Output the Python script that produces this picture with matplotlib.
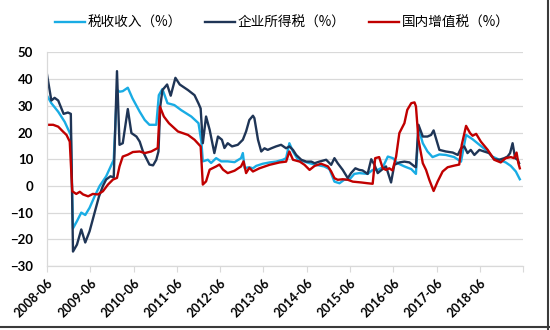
import matplotlib.pyplot as plt
from matplotlib.lines import Line2D

# months counted from 2008-06
total_m = [0, 1.2, 3.1, 4.9, 6.6, 7.2, 8.3, 9.5, 10.6, 11.8, 13.2, 14.6, 16.4, 18.5,
           19.4, 20.1, 21.0, 22.4, 23.7, 25.7, 27.1, 28.4, 30.3, 31.0, 32.0, 33.4,
           35.3, 37.2, 40.0, 42.0, 42.8, 43.2, 44.6, 45.5, 46.9, 48.3, 50.1, 52.0,
           53.8, 54.3, 54.8, 56.1, 57.1, 58.0, 59.8, 61.7, 63.5, 65.4, 66.3, 67.2,
           68.2, 69.6, 71.4, 72.8, 74.6, 76.9, 78.3, 79.7, 81.1, 82.4, 83.8, 85.2,
           86.6, 88.9, 90.3, 91.7, 93.1, 94.5, 95.9, 97.2, 99.1, 101.0, 102.3, 103.0,
           104.2, 105.5, 106.9, 108.8, 110.6, 112.9, 114.8, 116.2, 118.0, 119.9,
           121.7, 123.5, 125.4, 127.2, 128.6, 130.0, 131.1]
total_v = [33.8, 31, 27.8, 24, 19, -15.9, -13.2, -10, -10.9, -8.2, -3.9, 0, 3.6, 9.8,
           36, 35.3, 35.5, 36.8, 32.8, 27.8, 24.7, 22.9, 22.9, 34, 36.3, 31,
           30.3, 28.4, 26, 23.5, 16.6, 9.2, 9.8, 8.6, 10.4, 9.2, 9.2, 8.9,
           10.4, 12.3, 6.7, 7, 6.6, 7.5, 8.3, 8.8, 9.1, 9.8, 10.4, 16,
           12.9, 9.8, 9.1, 8.5, 7.9, 7.3, 6.3, 1.6, 1, 2.3, 2.3, 4.5,
           4.8, 4.5, 6, 6, 7, 11, 10.4, 8.5, 7.3, 6.3, 4.5, 21.6,
           16, 12.9, 10.8, 11.8, 11.6, 10.8, 9.1, 19.1, 17.5, 15.4,
           13.5, 11, 9.8, 8.8, 7.5, 5.4, 2.5]

corp_m = [0, 1.2, 2.1, 3.1, 4.0, 4.6, 5.8, 6.6, 7.2, 8.3, 9.5, 10.6, 11.8, 13.2, 14.4,
          15.5, 16.4, 17.6, 18.5, 19.4, 20.1, 21.0, 22.4, 23.4, 24.8, 25.7, 26.6,
          27.5, 28.4, 29.4, 30.3, 30.9, 31.4, 32.0, 33.3, 34.3, 35.6, 36.8, 39.1,
          40.9, 42.0, 42.6, 43.2, 44.1, 45.1, 46.4, 47.4, 48.5, 49.2, 50.1, 51.3,
          52.9, 54.3, 55.2, 56.1, 57.1, 57.5, 58.5, 59.4, 60.3, 61.2, 62.2, 63.5,
          64.9, 66.3, 67.2, 68.2, 69.1, 70.5, 71.9, 73.3, 74.2, 75.5, 77.4, 78.8,
          79.7, 80.6, 82.0, 83.4, 84.3, 85.5, 86.6, 87.5, 88.9, 89.9, 90.8, 91.7,
          92.6, 94.0, 95.4, 96.3, 97.7, 99.1, 100.5, 101.9, 102.3, 103.0, 104.2,
          105.5, 106.5, 107.2, 108.8, 110.6, 112.5, 113.9, 114.8, 115.7, 116.6,
          117.5, 118.5, 119.9, 121.2, 122.6, 124.0, 125.4, 126.8, 127.7, 128.4,
          129.1, 129.8, 130.5, 130.9]
corp_v = [41.7, 32, 33, 32, 29, 27, 27.5, 27, -24.6, -22, -16.3, -21.2, -17, -10, -4,
          0, 2.4, 3.6, 3.2, 43, 15.4, 16, 28.8, 19.8, 18.5, 16.6, 12.9,
          10.4, 8, 7.7, 9.8, 12.9, 29.7, 35.9, 38, 33.8, 40.5, 38, 35.9,
          34, 30.9, 29, 16, 26, 21, 12.3, 18.5, 17.3, 14.2, 16, 14.8,
          15.4, 17.3, 20.4, 24.7, 26.3, 25.4, 17.3, 12.9, 14.1, 13.5, 14.1, 14.8,
          15.4, 14.1, 14.8, 13.5, 11.6, 9.8, 9.1, 9.1, 8.5, 9.1, 9.8, 7.9,
          10.4, 8.5, 6, 2.9, 4.8, 6.6, 6, 5.8, 4.5, 10, 7.9, 4.8,
          5.8, 7.3, 1.3, 7.9, 8.8, 9.1, 8.8, 7.3, 7, 22.9, 18.5,
          18.5, 19.1, 20.8, 13.5, 12.9, 12.5, 11.6, 14.1, 14.8, 12.3,
          13.5, 11.6, 13.5, 12.9, 12.3, 10, 9.8, 10.4, 11, 12.3,
          16, 10.4, 9.8, 8.5]

vat_m = [0, 1.7, 3.1, 4.4, 5.4, 6.3, 7.0, 8.1, 9.1, 10.0, 11.4, 12.7, 14.1, 15.5, 16.9,
         18.3, 19.4, 20.1, 21.0, 22.4, 23.8, 25.7, 27.1, 28.9, 30.7, 31.3, 32.4,
         33.8, 36.3, 39.1, 40.9, 42.6, 43.2, 44.1, 45.1, 46.9, 47.8, 48.8, 50.1,
         52.0, 53.8, 54.5, 55.2, 56.1, 57.1, 58.9, 61.7, 64.5, 66.3, 67.2, 68.2,
         70.1, 71.4, 72.8, 74.2, 76.0, 77.9, 78.8, 79.7, 80.6, 82.0, 83.4, 84.8,
         87.1, 88.9, 90.3, 91.0, 92.1, 93.1, 94.0, 94.9, 95.8, 96.8, 97.7, 99.1,
         99.9, 101.0, 101.9, 102.3, 103.0, 104.2, 105.1, 106.0, 107.2, 108.3,
         109.7, 111.1, 112.9, 114.3, 115.0, 116.2, 117.3, 118.0, 119.0, 120.3,
         122.2, 124.0, 125.8, 127.2, 128.6, 129.5, 130.2, 130.7, 131.1]
vat_v = [22.9, 22.9, 22.2, 20.4, 19.1, 16.6, -2, -3, -2.2, -3.2, -3.9, -3, -3.2, -2, 0.5,
         2.4, 3, 7.3, 11, 11.7, 12.7, 12.9, 12.3, 12.9, 14.2, 29.7, 26,
         23.5, 20.4, 19.1, 17.3, 14.8, 0.5, 1.7, 6.1, 7.3, 8, 6.1, 4.8,
         5.7, 7.3, 9.2, 4.8, 6.8, 5.4, 6.6, 7.9, 8.8, 9.1, 12.9, 9.8,
         9.1, 7.9, 6, 7.5, 8.3, 7.3, 5.4, 2.9, 2.3, 2.5, 2.3, 1.6,
         1.3, 1, 0.8, 10.4, 10.8, 6.6, 6, 6.6, 5.8, 11, 19.8, 23.5,
         28.5, 31, 31.3, 29.8, 17.3, 8.5, 6, 2.3, -1.9, 1.6,
         5.4, 7, 7.6, 8, 15.4, 22.5, 19.8, 18.8, 19.5, 16.6,
         13.5, 9.8, 8.8, 10.4, 10.8, 10.4, 12.5, 8.5, 6.6]

tick_labels = ['2008-06', '2009-06', '2010-06', '2011-06', '2012-06', '2013-06',
               '2014-06', '2015-06', '2016-06', '2017-06', '2018-06', '']
names = ['税收收入（%）', '企业所得税（%）', '国内增值税（%）']
colors = ['#19ACE4', '#1F3556', '#C00000']

plt.rcParams['font.family'] = ['Lato', 'DejaVu Sans']

fig = plt.figure(figsize=(5.5, 3.3), dpi=100)
ax = fig.add_axes([0.0855, 0.194, 0.8655, 0.647])

ax.plot(total_m, total_v, color=colors[0], lw=1.7, label=names[0])
ax.plot(corp_m, corp_v, color=colors[1], lw=1.7, label=names[1])
ax.plot(vat_m, vat_v, color=colors[2], lw=1.7, label=names[2])

ax.set_xlim(0, 132)
ax.set_ylim(-30, 50)
ax.set_yticks(range(-30, 51, 10))
ax.set_xticks(range(0, 133, 12))
ax.set_xticklabels(tick_labels, rotation=45, ha='right', va='top',
                   rotation_mode='anchor', fontsize=9, fontweight='bold')
for lab in ax.get_yticklabels():
    lab.set_fontsize(9.5)
    lab.set_fontweight('bold')

ax.grid(axis='y', color='#D9D9D9', lw=0.9)
ax.set_axisbelow(True)
for s in ['top', 'right']:
    ax.spines[s].set_visible(False)
for s in ['left', 'bottom']:
    ax.spines[s].set_color('#D9D9D9')
    ax.spines[s].set_linewidth(0.9)
ax.tick_params(axis='y', length=0, pad=10)
ax.tick_params(axis='x', length=4, color='#D9D9D9', pad=4)

ax.legend(loc='center', bbox_to_anchor=(0.513, 0.93), bbox_transform=fig.transFigure,
          ncol=3, frameon=False, handlelength=2.2, columnspacing=1.7,
          handletextpad=0.2, prop={'family': ['Noto Sans CJK SC', 'DejaVu Sans'], 'size': 9.8})

# dark edge along the right and bottom of the figure
fig.add_artist(Line2D([0.997, 0.997], [0.0, 1.0], transform=fig.transFigure,
                      color='#3A3A3A', lw=1.5))
fig.add_artist(Line2D([0.0, 1.0], [0.009, 0.009], transform=fig.transFigure,
                      color='#3A3A3A', lw=1.5))

fig.savefig('out.png', dpi=100)
